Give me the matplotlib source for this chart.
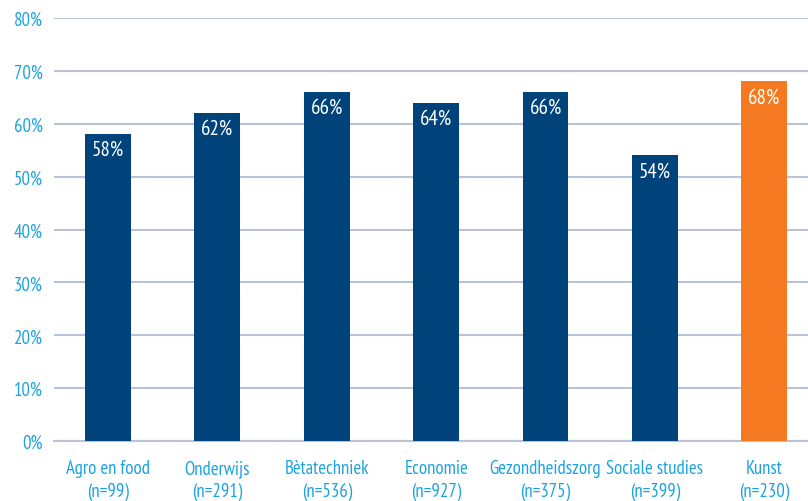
import matplotlib.pyplot as plt

categories = ['Agro en food', 'Onderwijs', 'Bètatechniek', 'Economie',
              'Gezondheidszorg', 'Sociale studies', 'Kunst']
counts = [99, 291, 536, 927, 375, 399, 230]
values = [58, 62, 66, 64, 66, 54, 68]

blue = '#00427a'
orange = '#f47920'
cyan = '#1ba3e0'
grid = '#b8c3d6'

plt.rcParams['font.family'] = ['PT Sans Narrow', 'Open Sans Condensed', 'DejaVu Sans']

fig = plt.figure(figsize=(8.08, 5.02), dpi=100)
ax = fig.add_axes([54 / 808, 60 / 502, 1 - 54 / 808, 423 / 502])

x = list(range(len(categories)))
colors = [blue] * (len(categories) - 1) + [orange]
ax.bar(x, [v / 100 for v in values], width=0.42, color=colors, zorder=3)

for xi, v in zip(x, values):
    ax.text(xi, v / 100 - 0.011, f'{v}%', ha='center', va='top',
            color='white', fontsize=15, zorder=4)

ax.set_ylim(0, 0.8)
ax.set_xlim(-0.494, 6.4)
ax.set_yticks([i / 10 for i in range(9)])
ax.set_yticklabels([f'{i * 10}%' for i in range(9)])
ax.set_xticks(x)
ax.set_xticklabels([f'{c}\n(n={n})' for c, n in zip(categories, counts)])

ax.grid(axis='y', color=grid, linewidth=1.5, zorder=0)
ax.set_axisbelow(True)
for s in ['left', 'right', 'top']:
    ax.spines[s].set_visible(False)
ax.spines['bottom'].set_color(grid)
ax.spines['bottom'].set_linewidth(1.5)
ax.tick_params(axis='both', length=0, colors=cyan, labelsize=13.5)
ax.tick_params(axis='y', pad=8)
ax.tick_params(axis='x', pad=13)
for lab in ax.get_xticklabels():
    lab.set_linespacing(1.3)

plt.savefig('out.png', dpi=100)
